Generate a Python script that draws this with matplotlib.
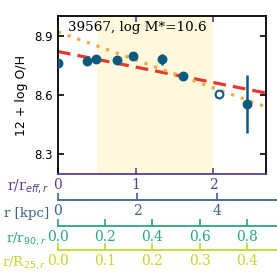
import matplotlib

matplotlib.use("Agg")
import matplotlib.pyplot as plt

# radial bins (r / r_eff) and metallicity
radius = [0.0, 0.38, 0.49, 0.76, 0.96, 1.34, 1.61, 2.07, 2.43]
oh = [8.76, 8.773, 8.78, 8.775, 8.795, 8.78, 8.695, 8.603, 8.555]
oh_err = [0.0, 0.0, 0.0, 0.0, 0.02, 0.03, 0.02, 0.0, 0.145]
is_open = [False, False, False, False, False, False, False, True, False]

# fitted gradients, end points in r / r_eff
fit_x = [0.0, 2.68]
fit_dashed = [8.82, 8.61]
fit_dotted = [8.92, 8.54]

fit_range = (0.5, 2.0)
label_text = "39567, log M*=10.6"

# secondary scales
kpc_ticks = [0, 2, 4]
r90_ticks = [0.0, 0.2, 0.4, 0.6, 0.8]
r25_ticks = [0.0, 0.1, 0.2, 0.3, 0.4]

PURPLE = "#5b3f8e"
BLUE = "#3e6190"
TEAL = "#2ba57e"
LIME = "#c3d62e"
DOT = "#0e5a7e"

W = 277.0
fig = plt.figure(figsize=(2.77, 2.77), dpi=100)
ax = fig.add_axes([58 / W, 1 - 174 / W, 208 / W, 158 / W])

ax.axvspan(*fit_range, color="#fff8dc", zorder=0, lw=0)
ax.plot(fit_x, fit_dashed, ls=(0, (4, 2.2)), color="#e8372c", lw=2.3, zorder=2)
ax.plot(fit_x, fit_dotted, ls=(0, (1, 2.2)), color="#f7a843", lw=2.3, zorder=2)

for x, y, e, o in zip(radius, oh, oh_err, is_open):
    ax.errorbar(
        x, y, yerr=e if e > 0 else None,
        fmt="o", ms=5.6, color=DOT, mec=DOT, mew=1.5,
        mfc="white" if o else DOT, elinewidth=1.8, capsize=0, zorder=3,
    )

ax.set_xlim(0, 2.68)
ax.set_ylim(8.2, 9.0)
ax.set_yticks([8.3, 8.6, 8.9])
ax.set_xticks([0, 1, 2])
ax.tick_params(direction="in", top=True, right=True, length=4, width=1.2,
               labelsize=8.5)
ax.tick_params(axis="x", colors=PURPLE, labelsize=10, pad=3)
for lab in ax.get_xticklabels():
    lab.set_family("DejaVu Serif")
for side in ["top", "left", "right"]:
    ax.spines[side].set_linewidth(1.3)
ax.spines["bottom"].set_color(PURPLE)
ax.spines["bottom"].set_linewidth(1.3)
ax.set_ylabel("12 + log O/H", fontsize=9, labelpad=5)
ax.text(0.05, 0.93, label_text, transform=ax.transAxes, fontsize=9.7,
        family="DejaVu Serif", va="center", ha="left")

fig.text(49 / W, 1 - 186 / W, r"r/r$_{eff,r}$", color=PURPLE, fontsize=10,
         family="DejaVu Serif", ha="right", va="center")


def scale_axis(y_px, xmax, ticks, color, label, fmt, label_right):
    sax = fig.add_axes([58 / W, 1 - y_px / W, (W - 58) / W, 0.001])
    sax.set_xlim(0, xmax)
    sax.set_ylim(0, 1)
    sax.set_yticks([])
    for side in ["top", "left", "right"]:
        sax.spines[side].set_visible(False)
    sax.spines["bottom"].set_color(color)
    sax.spines["bottom"].set_linewidth(1.3)
    sax.set_xticks(ticks)
    sax.set_xticklabels([fmt.format(t) for t in ticks], family="DejaVu Serif")
    sax.tick_params(axis="x", direction="in", colors=color, length=5,
                    width=1.2, labelsize=10, pad=3)
    sax.patch.set_visible(False)
    fig.text(label_right / W, 1 - (y_px + 13) / W, label, color=color,
             fontsize=9.6, family="DejaVu Serif", ha="right", va="center")


scale_axis(200, 5.52, kpc_ticks, BLUE, "r [kpc]", "{:d}", 49)
scale_axis(226, 0.9286, r90_ticks, TEAL, r"r/r$_{90,r}$", "{:.1f}", 46)
scale_axis(250, 0.4643, r25_ticks, LIME, r"r/R$_{25,r}$", "{:.1f}", 46)

fig.savefig("out.png", dpi=100)
